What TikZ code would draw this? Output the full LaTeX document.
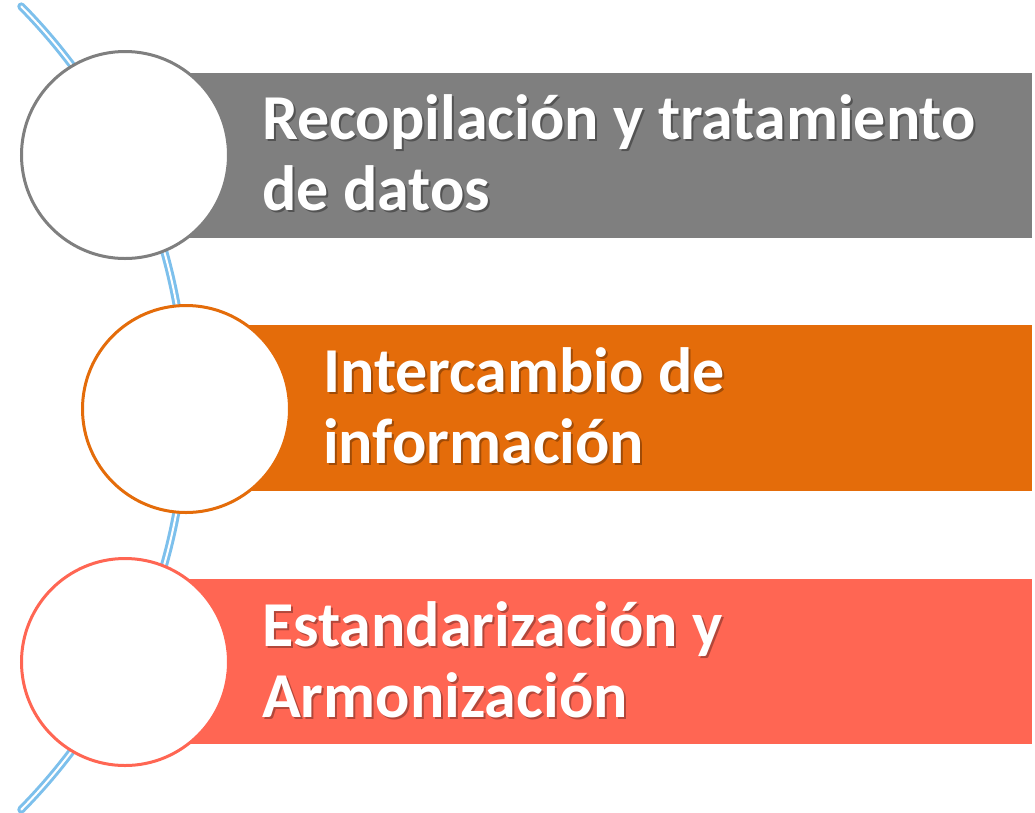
\documentclass[tikz,border=0pt]{standalone}
\usepackage{fontspec}
\setmainfont{Carlito}
\definecolor{barGray}{HTML}{7F7F7F}
\definecolor{barOrange}{HTML}{E46C0A}
\definecolor{barSalmon}{HTML}{FF6653}
\definecolor{arcBlue}{HTML}{7DC0EC}
\newcommand\shd[2]{\makebox[0pt][l]{\hspace{2pt}\raisebox{-2pt}{\textcolor{#1}{#2}}}#2}
\tikzset{
  arcline/.style={draw=arcBlue, line width=3pt, double=white, double distance=2pt, line cap=round},
  bar/.style={draw=none, inner sep=0pt, anchor=north west},
  ring/.style={circle, fill=white, line width=3pt, minimum size=207pt, inner sep=0pt},
  label/.style={anchor=base west, align=left, text=white, inner sep=0pt,
    font=\fontsize{64}{71}\selectfont\bfseries}
}
\begin{document}
\begin{tikzpicture}[x=1pt, y=-1pt]
\useasboundingbox (0,0) rectangle (1035,812);
\fill[white] (0,0) rectangle (1035,812);
% decorative arc
\draw[arcline] (-386,408) ++(-44.6:572) arc[start angle=-44.6, end angle=44.6, radius=572];
% bars
\node[bar, fill=barGray, minimum width=907pt, minimum height=165pt] (b1) at (125,73) {};
\node[bar, fill=barOrange, minimum width=845pt, minimum height=166pt] (b2) at (187,325) {};
\node[bar, fill=barSalmon, minimum width=907pt, minimum height=165pt] (b3) at (125,579) {};
% circles
\node[ring, draw=barGray] (c1) at (125,155) {};
\node[ring, draw=barOrange] (c2) at (186,409) {};
\node[ring, draw=barSalmon] (c3) at (125,662) {};
% texts (base anchor = last line)
\node[label] (t1) at (262,210) {\shd{black!35!barGray}{Recopilación y tratamiento}\\\shd{black!35!barGray}{de datos}};
\node[label] (t2) at (323,463) {\shd{black!30!barOrange}{Intercambio de}\\\shd{black!30!barOrange}{información}};
\node[label] (t3) at (262,717) {\shd{black!30!barSalmon}{Estandarización y}\\\shd{black!30!barSalmon}{Armonización}};
\end{tikzpicture}
\end{document}
